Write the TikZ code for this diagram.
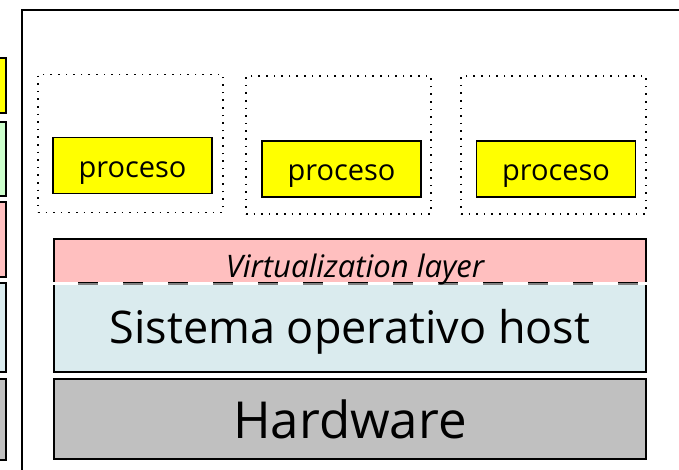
\documentclass[tikz,border=0pt]{standalone}
\usepackage{fontspec}
\setmainfont{Open Sans}
\usepackage{tikz}
\usetikzlibrary{calc}
\definecolor{procyellow}{RGB}{255,255,0}
\definecolor{vmgreen}{RGB}{204,255,204}
\definecolor{virtpink}{RGB}{255,191,191}
\definecolor{hostblue}{RGB}{218,235,238}
\definecolor{hwgrey}{RGB}{192,192,192}
\tikzset{
    layer/.style args={#1}{draw, line width=1.5pt, fill=#1, minimum width=592pt, inner sep=0pt},
    proc/.style={draw, line width=1.5pt, fill=procyellow, minimum width=159pt, minimum height=56pt, inner sep=0pt},
    proctext/.style={inner sep=0pt, text depth=0pt, font=\fontsize{29}{34}\selectfont},
    slot/.style={draw, line width=1.6pt, dash pattern=on 1.6pt off 6pt, minimum width=185pt, minimum height=138pt, inner sep=0pt},
    side/.style args={#1}{draw, line width=1.5pt, fill=#1}
}

\begin{document}
\begin{tikzpicture}[x=1pt, y=-1pt]
\useasboundingbox (0,0) rectangle (679,470);
\begin{scope}
\clip (0,0) rectangle (679,470);
% neighbouring stack, cut at the left edge
\draw[side=procyellow] (-30,58) rectangle (6,113);
\draw[side=vmgreen] (-30,122) rectangle (6,196);
\draw[side=virtpink] (-30,202) rectangle (6,277);
\draw[side=hostblue] (-30,283) rectangle (6,372);
\draw[side=hwgrey] (-30,379) rectangle (6,460);
% outer frame
\draw[line width=1.5pt] (22,490) |- (700,10);
\end{scope}

% process slots
\foreach \i/\sx/\sy/\px/\py in {1/130.5/143.5/132.5/165.5, 2/338.5/145/341.5/169, 3/553.5/145/556/169} {
    \node[slot] (slot\i) at (\sx,\sy) {};
    \node[proc] (proc\i) at (\px,\py) {};
    \node[proctext, yshift=-4pt] (lbl\i) at (proc\i.center) {proceso};
}

% layers
\node[layer=virtpink, minimum height=44pt] (virt) at (350,261) {};
\node[layer=hostblue, minimum height=89pt] (host) at (350,327.5) {};
\node[layer=hwgrey, minimum height=80pt, text depth=0pt, font=\fontsize{51}{60}\selectfont] (hw) at (350,419) {Hardware};
\draw[gray, line width=2pt] (virt.south west) -- (virt.south east);
\draw[white, line width=3pt, dash pattern=on 25pt off 20pt] (virt.south west) -- (virt.south east);
\node[font=\fontsize{31}{36}\selectfont\itshape, anchor=base] (virtlabel) at (355,277) {Virtualization layer};
\node[text depth=0pt, font=\fontsize{45}{52}\selectfont] (hostlabel) at (350,326) {Sistema operativo host};
\end{tikzpicture}
\end{document}
